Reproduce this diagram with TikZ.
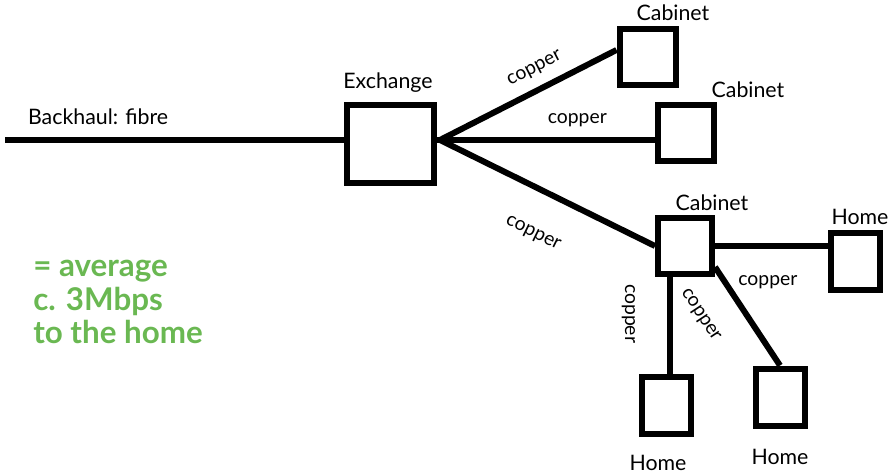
\documentclass[tikz,border=0pt]{standalone}
\usepackage{fontspec}
\setmainfont{Lato}
\usetikzlibrary{positioning}
\definecolor{speedgreen}{RGB}{106,184,82}

\begin{document}
\begin{tikzpicture}[
    x=0.75pt, y=-0.75pt,
    box/.style={rectangle, draw=black, line width=4.5pt, minimum width=42pt, minimum height=42pt, inner sep=0pt},
    wire/.style={line width=4.5pt},
    title/.style={font=\fontsize{16}{18}\selectfont, inner sep=0pt},
    medium/.style={font=\fontsize{14.5}{16}\selectfont, inner sep=0pt}
]
\useasboundingbox (0,0) rectangle (890,475);

% exchange and street cabinets
\node[box, minimum width=65.25pt, minimum height=58.5pt] (exch) at (390,143.5) {};
\node[box] (cab1) at (647.5,56.5) {};
\node[box] (cab2) at (685.5,132.5) {};
\node[box, minimum width=40.5pt] (cab3) at (685,246) {};

% homes
\node[box, minimum width=36.75pt, minimum height=42.75pt] (home1) at (855,261) {};
\node[box, minimum width=36.75pt, minimum height=42.75pt] (home2) at (666,405) {};
\node[box, minimum width=36.75pt, minimum height=42.75pt] (home3) at (780,397) {};

% names
\node[title] (exchname) at (388,83) {Exchange};
\node[title] (cab1name) at (673,13) {Cabinet};
\node[title] (cab2name) at (748,90) {Cabinet};
\node[title] (cab3name) at (712,203) {Cabinet};
\node[title] (home1name) at (860,217) {Home};
\node[title] (home2name) at (658,463) {Home};
\node[title] (home3name) at (780,457) {Home};

\coordinate (bh) at (5,140);
\coordinate (hub) at (440,140);

\draw[wire] (bh) -- (bh -| exch.west) node[title, pos=0.275, above=9pt] {Backhaul: fibre};
\draw[wire] (exch.east |- hub) -- (hub);
\draw[wire] (hub) -- ([yshift=4.9pt]cab1.west) node[medium, sloped, pos=0.59, above=8pt] {copper};
\draw[wire] (hub) -- (hub -| cab2.west) node[medium, pos=0.64, above=7.5pt] {copper};
\draw[wire] (hub) -- (cab3.west) node[medium, sloped, pos=0.52, below=25pt] {copper};
\draw[wire] (cab3.east) -- (cab3.east -| home1.west) node[medium, pos=0.47, below=20pt] {copper};
\draw[wire] ([xshift=11.25pt]cab3.south west) -- ([xshift=11.25pt]cab3.south west |- home2.north) node[medium, sloped, pos=0.38, below=24pt] {copper};
\draw[wire] ([yshift=7.5pt]cab3.south east) -- (home3.north) node[medium, sloped, pos=0.27, below=22pt] {copper};

\node[anchor=west, align=left, text=speedgreen, inner sep=0pt, font=\bfseries\fontsize{23.5}{25}\selectfont] (speed) at (33,302) {= average\\c. 3Mbps\\to the home};

\end{tikzpicture}
\end{document}
